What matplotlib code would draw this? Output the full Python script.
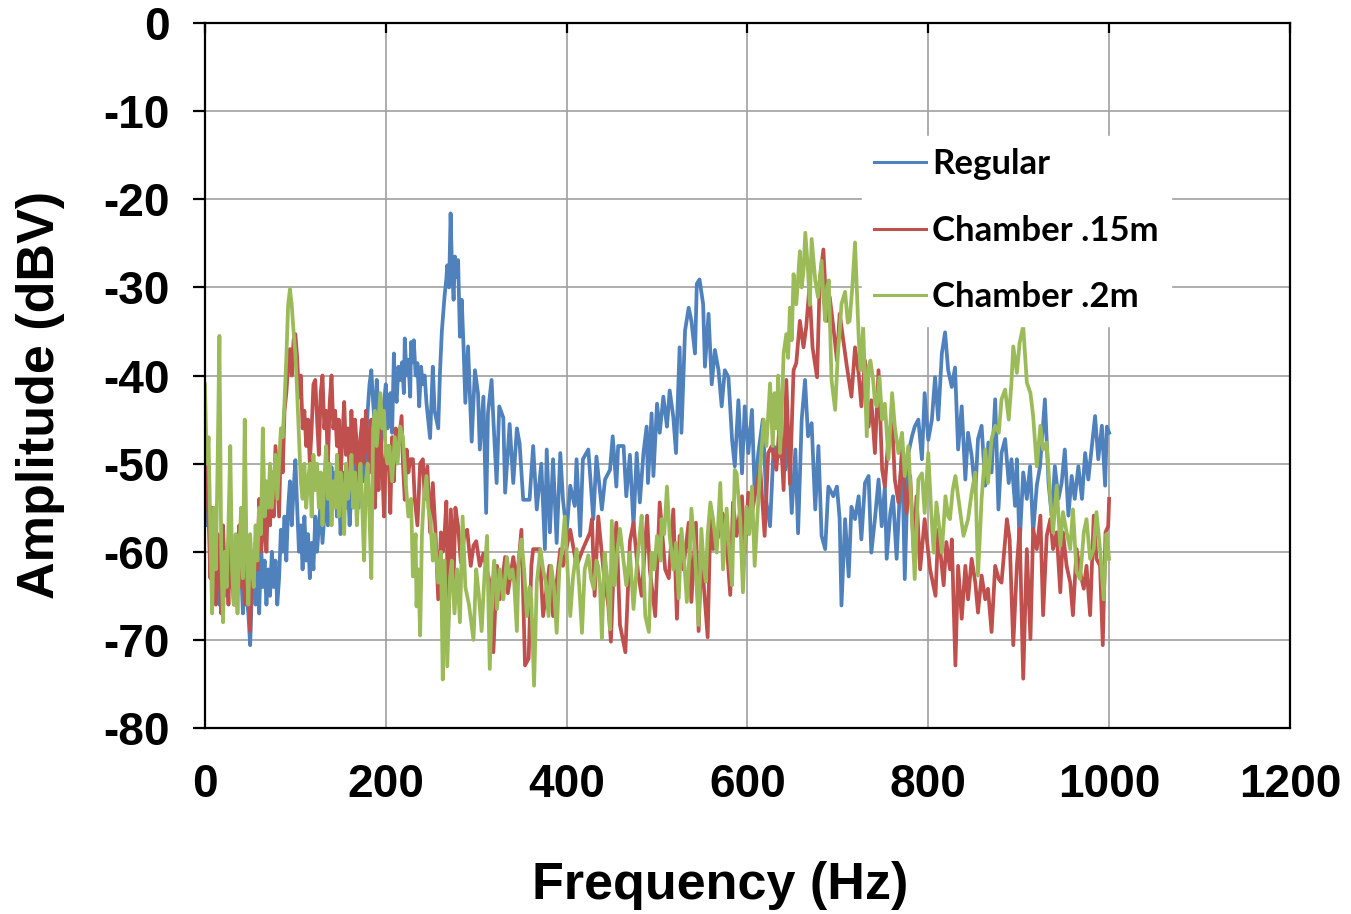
import numpy as np
import matplotlib
matplotlib.use("Agg")
import matplotlib.pyplot as plt

# (frequency Hz, amplitude dBV)
regular = [
    (0, -51), (2, -57), (4, -53), (6, -60), (8, -56), (10, -64), (12, -58), (14, -62), (16, -66), (18, -59),
    (20, -63), (22, -60), (24, -65), (26, -61), (28, -58), (30, -63), (32, -66), (34, -60), (36, -64), (38, -59),
    (40, -62), (42, -67), (44, -61), (46, -65), (48, -67), (50, -70.6), (52, -64), (54, -60), (56, -66), (58, -62),
    (60, -67), (62, -59), (64, -64), (66, -61), (68, -66), (70, -62), (72, -65), (74, -60), (76, -64), (78, -61),
    (80, -66), (82, -63), (84, -57.5), (86, -60), (88, -56), (90, -61), (92, -55), (94, -52), (96, -57), (98, -53),
    (100, -49.6), (102, -55), (104, -60), (106, -57), (108, -62), (110, -56), (112, -61), (114, -58), (116, -63),
    (118, -59), (120, -62), (122, -56), (124, -60), (126, -57), (128, -54.5), (130, -59), (132, -56), (134, -53),
    (136, -57), (138, -52), (140, -50.4), (142, -54), (144, -51), (146, -56), (148, -52), (150, -58), (152, -54),
    (154, -51), (156, -55), (158, -52), (160, -57), (162, -53), (164, -50), (166, -54), (168, -49), (170, -55),
    (172, -51), (174, -47), (176, -52), (178, -48), (180, -44), (182, -41), (184, -39.4), (186, -43), (188, -46),
    (190, -40.5), (192, -44), (194, -48), (196, -47), (198, -43), (200, -41), (202, -46), (204, -44), (205, -42),
    (207, -46.5), (209, -37.5), (210, -41.2), (212, -43), (214, -39), (216, -40.5), (218, -38.5), (220, -42),
    (221, -35.8), (223, -40), (225, -38.2), (227, -42.4), (228, -36.2), (230, -38.5), (231, -36), (233, -40),
    (235, -38.6), (237, -43.5), (239, -39), (241, -41), (243, -40), (245, -43.1), (249, -47.1), (252, -39),
    (254, -44), (258, -46), (260, -39.5), (262, -35), (263, -33.7), (265, -31), (267, -29), (268, -27.5),
    (270, -30), (271.7, -21.6), (273, -27), (275, -31.4), (276.5, -26.5), (278.5, -28.8), (280, -26.9),
    (282, -35.6), (284, -31.4), (286, -36.7), (288, -43.1), (291, -36.7), (295, -47.5), (298.6, -39.4),
    (302, -42), (304, -48.4), (308, -42.4), (311, -55.6), (313, -44.3), (317, -40.5), (319, -45), (322.6, -52.2),
    (325.5, -43.5), (330, -44.8), (332, -53.3), (337, -45.5), (341, -52.2), (345, -46), (348, -47.7),
    (352, -54.1), (359, -54.1), (363, -48), (367, -55.2), (372, -50), (376, -59.7), (378, -48.4), (381.5, -57.8),
    (385, -49.5), (389, -59), (393, -48.8), (396, -54.1), (400, -57.8), (404, -52.5), (409, -54.8), (411, -49.5),
    (415, -58.2), (418, -49.5), (424, -48.4), (429.5, -56.3), (433, -49.2), (439, -55.2), (442.5, -51.8),
    (448, -50.7), (451, -46.9), (455, -52.6), (457, -48), (463, -48), (466, -53.7), (470, -49), (474, -57.1),
    (477.5, -48.8), (481, -54.4), (485, -48.8), (488.5, -45.8), (490, -52.2), (494, -44.3), (496, -51.4),
    (500, -43.2), (503, -46.5), (507, -42.4), (511, -45.8), (514, -41.7), (518, -44.7), (521, -48.8),
    (525, -36.8), (527, -46.5), (531, -34.9), (535, -32.3), (538, -33.8), (542, -37.5), (544, -29.6),
    (547, -29.1), (551, -31.9), (553, -39), (557, -33), (560.5, -41), (564, -37.1), (568, -39.4), (571.5, -43.5),
    (575, -39.4), (579, -40.2), (583, -47.3), (586, -50.3), (590, -42.8), (594, -51.1), (597, -43.5),
    (601, -48.8), (605, -43.9), (608, -53.3), (612, -48.8), (617, -45), (621, -54.4), (625, -57.1), (629, -48),
    (632, -49.5), (636, -48.8), (642, -50.7), (645, -46.5), (649, -55.6), (653, -48.4), (656, -57.9), (660, -45),
    (663.7, -40.5), (667, -46.9), (671, -45.4), (675, -55.2), (678.5, -48), (682, -58.2), (686, -59.7),
    (689.5, -52.6), (695, -53.7), (699, -52.6), (702, -56.3), (704, -66.1), (708, -56.3), (712, -62.8),
    (715, -54.9), (719, -56.3), (723, -53.7), (726, -58.6), (730, -52.2), (734, -51.4), (737, -60.1),
    (741, -56.3), (745, -51.8), (748.5, -57.1), (752, -52.6), (754, -60.8), (758, -55.6), (761, -53.7),
    (765, -60.8), (771, -48), (774, -63.1), (778, -48.8), (782, -46.9), (785, -45.8), (789, -45), (793, -49.5),
    (796, -42), (800, -47.3), (804, -45), (807.5, -40.2), (811, -45), (815, -37.5), (818.6, -35.1), (822, -39.4),
    (826, -41.3), (829.6, -39.1), (833, -48.4), (837, -43.5), (841, -51.8), (844, -46.5), (848, -49.1),
    (852, -53.3), (855, -47.2), (859, -45.7), (863, -52.5), (866.5, -47.6), (870, -51), (874, -42.7),
    (877.6, -55.2), (881, -48.8), (885, -47.2), (889, -52.2), (892, -49.5), (896, -54.8), (898, -49.5),
    (901, -59.3), (905, -51), (909, -54), (912.6, -50.3), (916, -57.8), (920, -52.5), (923.6, -50.3),
    (929, -42.7), (933, -52.2), (936.5, -55.9), (940, -50.3), (944, -54), (947.5, -52.2), (951, -48.4),
    (955, -55.9), (958.6, -51.4), (962, -54), (966, -50.3), (970, -54), (973.5, -48.8), (977, -51.8),
    (981, -48), (984.5, -44.6), (988, -49.5), (992, -45.7), (995.6, -52.5), (997.5, -45.8), (1000, -46.5),
]

chamber_15 = [
    (0, -47), (2, -52), (4, -56), (6, -63), (8, -55), (10, -60), (12, -66), (14, -58), (16, -62), (18, -67),
    (20, -57), (22, -63), (24, -60), (26, -66), (28, -58), (30, -64), (32, -61), (34, -66), (36, -60), (38, -57),
    (40, -64), (42, -59), (44, -66), (46, -62), (48, -60), (50, -69), (52, -61), (54, -64), (56, -59), (58, -62),
    (60, -54), (62, -60), (64, -58), (66, -55), (68, -60), (70, -53), (72, -57), (74, -51), (76, -56), (78, -48),
    (80, -52), (82, -56), (84, -47), (86, -51), (88, -44), (90, -42), (92, -39), (94, -37), (96, -40), (98, -36),
    (100, -35.3), (102, -38), (104, -42.5), (106, -40), (108, -46), (110, -44), (112, -48), (114, -45), (116, -50),
    (118, -46), (120, -41), (122, -40.5), (124, -45), (126, -49), (128, -42), (130, -40), (132, -46), (134, -44),
    (136, -50), (138, -43), (140, -40), (142, -46), (144, -44), (146, -48), (148, -45), (150, -52), (152, -47),
    (154, -43), (156, -49), (158, -46), (160, -51), (162, -44), (164, -50), (166, -45), (168, -48), (170, -52),
    (172, -47), (174, -45), (176, -50), (178, -44), (180, -47), (182, -51), (184, -45), (186, -49), (188, -55),
    (190, -48), (192, -53), (194, -46), (196, -50), (198, -56), (200, -49), (203, -48), (205, -55.6), (207, -47),
    (209, -52), (211, -46), (214, -48), (217.5, -44.6), (219, -50), (221, -54.1), (223, -48.4), (225, -51),
    (227, -49.5), (230, -49.5), (232, -54), (235, -57), (238, -50), (241, -49.5), (243, -54), (246, -50.3),
    (249, -57.8), (252, -52.2), (255, -57.8), (258, -65.4), (261, -57.8), (263, -60), (265, -58), (267, -54.3),
    (269, -68.8), (272, -55.2), (275, -63.4), (277, -55), (280, -57.1), (283, -61.2), (287, -58), (290, -57.5),
    (294, -61.6), (297, -59.3), (300, -58.8), (304, -61.6), (308, -60.2), (315, -63.5), (319, -71.4),
    (323, -61.6), (326, -65.4), (332, -60.6), (335, -64.7), (341, -60.6), (345, -63.5), (350, -57.5),
    (354, -72.9), (358, -72.1), (361, -61.6), (363, -59.7), (370, -59.7), (374, -67.3), (381, -61.6),
    (385, -67.3), (393, -59.7), (396, -61.6), (404, -57.5), (411, -61.6), (418, -59.7), (426, -57.8),
    (428, -56.3), (431, -65), (435, -56), (441, -62.4), (446, -66), (449, -70.2), (452, -62), (455, -56.7),
    (459, -68.3), (465, -71.4), (470, -58.8), (474, -56.7), (479, -62.4), (483, -65), (489, -55.9), (492, -62),
    (498, -67.3), (503, -54.4), (509, -62), (513, -63), (518, -55.2), (522, -67.6), (525, -58.2), (529, -62),
    (535, -56.7), (538, -65.7), (543, -56.7), (546, -69), (549, -60.1), (556, -69.7), (559, -56.3), (562, -59.7),
    (568, -58.2), (572, -55.6), (575, -56.3), (581, -64.9), (584, -54.4), (588, -58.2), (594, -53.7),
    (597, -60.1), (601, -53.3), (605, -55.6), (610, -52.6), (614, -50.3), (619, -58.2), (623, -48.8), (627, -48),
    (632, -50.7), (636, -44.8), (640, -53), (643, -40.5), (647, -52.3), (651, -39.4), (654, -38.6), (658, -33.8),
    (662, -36.8), (665, -34.5), (668.5, -30), (672, -36.8), (677, -40.2), (680, -29.2), (684, -25.7),
    (688, -33.8), (691, -31.1), (695, -34.5), (699, -38.3), (702, -33), (706, -36), (710, -39), (715, -42.4),
    (719, -36.8), (723, -39.8), (726, -43.5), (730, -38.3), (734, -45.8), (737, -42.8), (741, -48.8),
    (745, -39.4), (749, -50.7), (752, -52.6), (756, -46.9), (760, -45), (763, -51.8), (767, -54.4), (771, -48.8),
    (776, -55.6), (780, -51.4), (784, -60.1), (787, -53.7), (791, -62), (796, -56.3), (802, -62), (808, -65),
    (811, -57.5), (817, -63.8), (820, -58.9), (824, -62), (826, -58.6), (830, -72.9), (833, -61.6), (837, -67.6),
    (841, -61.6), (844, -65.4), (848, -60.8), (852, -63.5), (855, -66.9), (859, -62.7), (863, -65.4),
    (866, -64.2), (870, -69.1), (874, -61.6), (878, -63.1), (881, -63.5), (887, -56.3), (890, -58.6),
    (894, -70.6), (898, -61.6), (901, -57.4), (905, -74.4), (909, -59.7), (913, -69.9), (916, -57.4),
    (920, -59.7), (924, -55.9), (927, -67.2), (931, -58.2), (935, -56.3), (938, -59.7), (942, -57.8),
    (946, -64.6), (949, -57.8), (953, -61.6), (957, -63.5), (960, -67.2), (964, -59.7), (968, -62.3),
    (972, -64.2), (975, -61.6), (979, -67.2), (983, -55.9), (986, -60.8), (990, -61.6), (993, -70.6),
    (996, -57.8), (999, -57.1), (1000, -54),
]

chamber_20 = [
    (0, -41), (2, -50), (4, -47), (6, -58), (8, -67), (10, -55), (12, -62), (14, -50), (16, -35.5), (18, -60),
    (20, -68), (22, -60), (24, -64), (26, -57), (28, -48), (30, -62), (32, -66), (34, -58), (36, -67), (38, -60),
    (40, -55), (42, -63), (44, -45), (46, -60), (48, -66), (50, -58), (52, -62), (54, -64), (56, -57), (58, -61),
    (60, -55), (62, -58), (64, -46), (66, -56), (68, -52), (70, -55), (72, -50), (74, -55), (76, -52), (78, -49),
    (80, -54), (82, -50), (84, -46), (86, -47), (88, -43), (90, -38), (92, -32), (94, -30.2), (96, -32),
    (98, -35), (100, -37.5), (102, -42), (104, -47), (106, -52), (108, -54), (110, -50), (112, -55), (114, -52),
    (116, -50), (118, -56), (120, -49), (122, -53), (124, -50), (126, -55), (128, -51), (130, -57), (132, -52),
    (134, -48), (136, -54), (138, -50), (140, -57), (142, -52), (144, -55), (146, -49), (148, -56), (150, -51),
    (152, -53), (154, -58), (156, -50), (158, -54), (160, -52), (162, -49), (164, -55), (166, -51), (168, -57),
    (170, -53), (172, -50), (174, -55), (176, -61), (178, -52), (180, -50), (182, -56), (184, -63), (186, -46),
    (188, -44), (190, -48), (192, -45), (194, -42), (196, -46), (198, -44), (200, -49), (202, -50), (204, -48),
    (207, -52), (210, -47), (213, -50), (216, -45.8), (219, -47), (222, -52), (225, -56), (228, -54),
    (230, -62.8), (233, -58), (234, -66.2), (236, -62), (238, -69.5), (240, -58), (242, -54), (245, -51.4),
    (247, -55), (249, -56), (252, -61), (254, -58), (258, -63.5), (261, -60), (263, -74.5), (265, -61),
    (268, -73), (271, -63), (273, -61), (276, -67), (279, -62), (282, -68), (285, -56), (288, -64), (292, -66),
    (297, -70), (300, -62), (303, -65), (306, -69), (309, -63), (312, -58.2), (315, -73.3), (318, -63.5),
    (320, -61), (323, -66.5), (326, -62), (330, -65.4), (334, -60.6), (337, -63), (340, -62), (342, -63.5),
    (345, -69), (347, -61), (350, -58.6), (353, -62), (356, -67.3), (359, -64), (361, -65.4), (364, -75.2),
    (367, -63.5), (371, -59.7), (374, -62), (377, -63.5), (380, -67.3), (383, -61.6), (386, -64), (389, -69.2),
    (392, -62), (395, -59.7), (398, -56), (401, -62), (404, -67.3), (407, -63), (411, -59.7), (414, -64),
    (417, -69.2), (420, -62), (424, -60.4), (427, -63), (430, -64.2), (433, -61), (435, -61.7), (437, -64),
    (439, -69.8), (442, -60.1), (445, -63), (448, -68.8), (450, -56.5), (453, -63.8), (456, -60), (459, -57.4),
    (462, -60.1), (466, -63.8), (470, -60.1), (474, -66.5), (477, -62.4), (480, -59), (483, -55.9), (487, -67.3),
    (491, -69.1), (494, -60.1), (497, -62), (500, -58.2), (504, -61), (505, -56.3), (508, -58), (511, -52.6),
    (514, -58.2), (518, -62), (521, -59), (524, -65.3), (527, -57.4), (530, -61), (533, -65.7), (536, -60),
    (538, -55.1), (542, -60.1), (546, -68.3), (549, -57.4), (552, -62), (554, -63.4), (556, -58), (559, -54.4),
    (562, -56.3), (566, -60.1), (570, -52.2), (573, -62), (577, -55.1), (580, -60), (583, -63.8), (586, -50.7),
    (588, -51.1), (592, -56.3), (595, -64.6), (599, -54.9), (602, -58), (605, -52.6), (608, -61.6), (611, -56),
    (614, -50.7), (618, -45), (621, -48), (625, -40.9), (628, -48), (630, -42), (632, -46), (634, -40),
    (636, -48.8), (638, -44), (640, -37.5), (643, -35.3), (645, -38), (647, -32.3), (649, -36), (651, -28.5),
    (654, -31.9), (656, -29), (658, -25.9), (660, -30), (662, -28.1), (664, -23.8), (667, -28.1), (669, -32),
    (671, -24.5), (675, -29.2), (678, -31.1), (680, -29), (682, -27), (684, -31), (686, -33.8), (688, -30),
    (690, -29.2), (693, -40.5), (697, -43.9), (700, -37.5), (702, -35), (704, -31.9), (708, -30.5), (711, -34),
    (713, -33.8), (716, -30), (719, -24.9), (723, -35.6), (725, -39.4), (728, -34.5), (732, -46.9), (734, -39),
    (736, -38.3), (739, -40.5), (741, -43), (743, -43.5), (746, -40.2), (749, -45), (752, -43.2), (756, -49.5),
    (760, -42), (763, -45.8), (767, -48.8), (771, -46.5), (774, -51.4), (778, -48), (782, -56.3), (785, -63.1),
    (789, -51.8), (793, -51.1), (796, -55.6), (800, -48.8), (803, -55), (806, -60.1), (809, -54.4), (813, -58),
    (815, -60.1), (819, -53.7), (822, -56), (824, -56.3), (827, -53), (830, -51.4), (833, -53.7), (836, -56),
    (839, -58.2), (844, -56.3), (848, -53.3), (852, -51), (855, -62.7), (859, -54), (863, -48.4), (866, -52.2),
    (870, -47.2), (874, -45.7), (878, -46.5), (881, -42.7), (885, -41.6), (889, -45), (892, -40.8), (894, -36.7),
    (898, -39.7), (901, -36.3), (905, -34.4), (909, -40.8), (913, -42), (916, -44.6), (920, -50.3), (924, -45.7),
    (927, -48.4), (931, -47.6), (935, -54), (938, -57.8), (942, -52.5), (946, -59.3), (949, -55.5), (953, -57.8),
    (957, -59.7), (960, -55.2), (964, -62.3), (968, -63.1), (972, -57.8), (975, -56.3), (979, -60.8),
    (983, -59.7), (986, -55.5), (990, -59.7), (994, -65.4), (997, -58), (1000, -60.8),
]

series_names = ["Regular", "Chamber .15m", "Chamber .2m"]
series_colors = ["#4F81BD", "#C0504D", "#9BBB59"]
x_ticks = [0, 200, 400, 600, 800, 1000, 1200]
y_ticks = [0, -10, -20, -30, -40, -50, -60, -70, -80]

fig = plt.figure(figsize=(13.51, 9.14), dpi=100)
ax = fig.add_axes([0.1517, 0.2035, 0.8031, 0.7713])

for data, name, col in zip([regular, chamber_15, chamber_20], series_names, series_colors):
    arr = np.array(data)
    ax.plot(arr[:, 0], arr[:, 1], color=col, lw=2.7, label=name, solid_joinstyle="round")

ax.set_xlim(0, 1200)
ax.set_ylim(-80, 0)
ax.set_xticks(x_ticks)
ax.set_yticks(y_ticks)
ax.grid(True, color="#a0a0a0", lw=1.2)
ax.set_axisbelow(True)

for s in ax.spines.values():
    s.set_linewidth(1.6)
    s.set_color("black")

tick_font = dict(family="Liberation Sans", weight="bold", size=33)
ax.set_xticklabels([str(v) for v in x_ticks], fontdict=tick_font)
ax.set_yticklabels([str(v) for v in y_ticks], fontdict=tick_font)
ax.tick_params(axis="x", bottom=False, top=True, direction="in", length=7, width=1.6, pad=25)
ax.tick_params(axis="y", left=True, right=False, direction="out", length=8.6, width=1.6, pad=17)

ax.set_xlabel("Frequency (Hz)", family="Liberation Sans", weight="bold", size=37.5)
ax.set_ylabel("Amplitude (dBV)", family="Liberation Sans", weight="bold", size=37.5)
ax.xaxis.set_label_coords(0.475, -0.223)
ax.xaxis.label.set_va("center")
ax.yaxis.set_label_coords(-0.152, 0.472)
ax.yaxis.label.set_va("center")

leg = ax.legend(loc="upper left", bbox_to_anchor=(0.6055, 0.84), frameon=True, fancybox=False,
                edgecolor="white", facecolor="white", framealpha=1.0,
                prop=dict(family="Lato", weight="bold", size=25),
                handlelength=1.5, handletextpad=0.17, labelspacing=1.0, borderpad=0.35, borderaxespad=0)
for h in leg.get_lines():
    h.set_linewidth(2.2)

fig.savefig("out.png", dpi=100)
